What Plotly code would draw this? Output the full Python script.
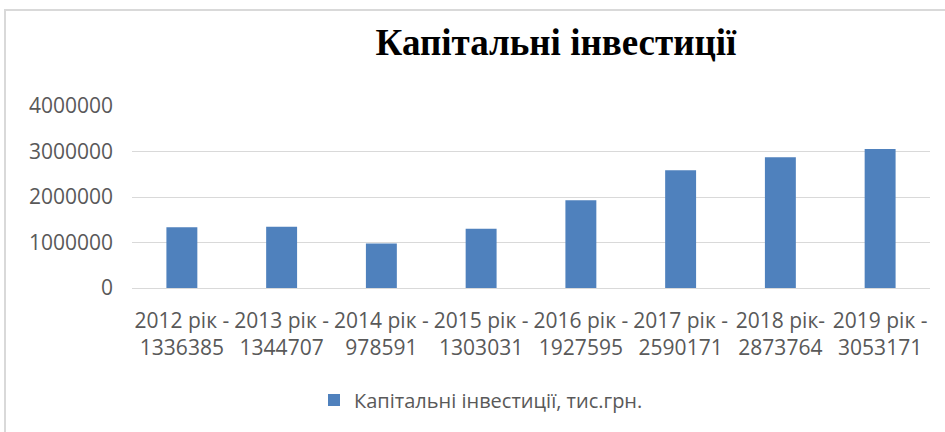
import plotly.graph_objects as go

years = ["2012 рік -", "2013 рік -", "2014 рік -", "2015 рік -", "2016 рік -", "2017 рік -", "2018 рік-", "2019 рік -"]
values = [1336385, 1344707, 978591, 1303031, 1927595, 2590171, 2873764, 3053171]
series_name = "Капітальні інвестиції, тис.грн."
title_text = "Капітальні інвестиції"
y_ticks = [0, 1000000, 2000000, 3000000, 4000000]

categories = [f"{y}<br>{v}" for y, v in zip(years, values)]

W, H = 945, 432
L, R, T, B = 132, 15, 106, 144
pw = W - L - R
ph = H - T - B

fig = go.Figure()
fig.add_trace(go.Bar(
    x=categories, y=values, name=series_name,
    marker=dict(color="#4F81BD", line=dict(width=0)),
    width=0.31, showlegend=True,
))

fig.update_layout(
    width=W, height=H,
    margin=dict(l=L, r=R, t=T, b=B),
    paper_bgcolor="white", plot_bgcolor="white",
    font=dict(family="Open Sans", color="#595959"),
    title=dict(text=f"<b>{title_text}</b>", xref="container", yref="container",
               x=556 / W, y=1 - 42 / H, xanchor="center", yanchor="middle",
               font=dict(family="Liberation Serif", size=37, color="#000000")),
    xaxis=dict(showgrid=False, showline=False, ticks="", tickfont=dict(size=21, color="#595959"),
               ticklabelstandoff=18),
    yaxis=dict(range=[0, 4000000], tickvals=y_ticks, ticktext=[str(v) for v in y_ticks],
               showgrid=True, gridcolor="#D9D9D9", gridwidth=1, zeroline=True,
               zerolinecolor="#D9D9D9", zerolinewidth=1, showline=False, ticks="",
               tickfont=dict(size=21, color="#595959"), ticklabelstandoff=18),
    legend=dict(orientation="h", x=(481 - L) / pw, y=(T + ph - 400) / ph,
                xanchor="center", yanchor="middle", font=dict(size=20, color="#595959"),
                itemwidth=30),
    bargap=0.69,
)

# chart frame border
fig.add_shape(type="rect", xref="paper", yref="paper",
              x0=(5 - L) / pw, x1=(W + 5 - L) / pw,
              y0=(T + ph - (H + 5)) / ph, y1=(T + ph - 10) / ph,
              line=dict(color="#D9D9D9", width=2), fillcolor="rgba(0,0,0,0)", layer="below")

fig.write_html("out.html")
